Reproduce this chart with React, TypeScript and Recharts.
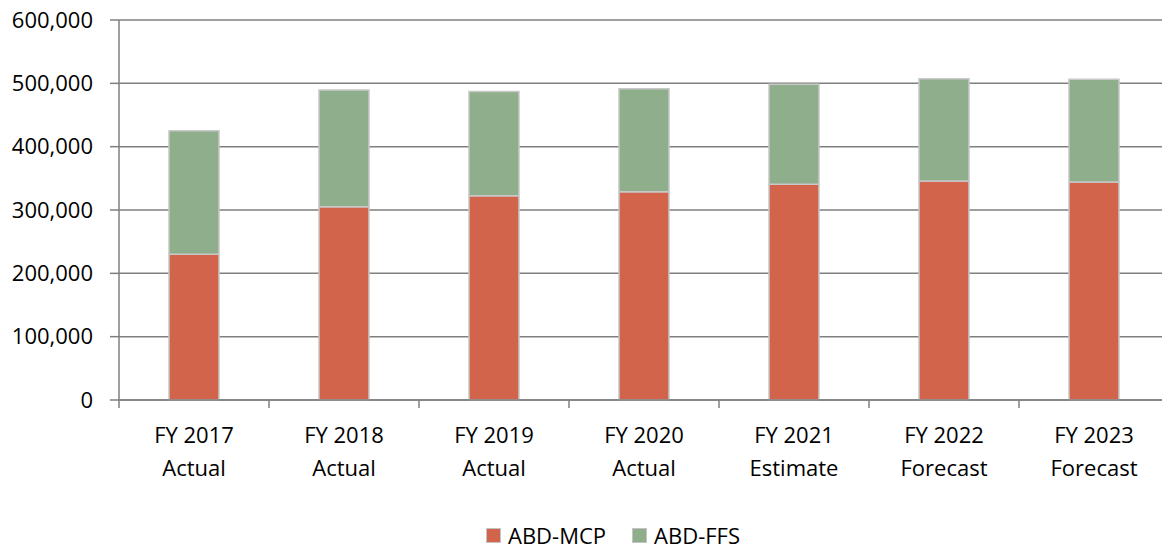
import { BarChart, Bar, XAxis, YAxis, CartesianGrid, Legend } from "recharts";

const years = ["FY 2017", "FY 2018", "FY 2019", "FY 2020", "FY 2021", "FY 2022", "FY 2023"];
const stages = ["Actual", "Actual", "Actual", "Actual", "Estimate", "Forecast", "Forecast"];
const mcp = [230000, 305000, 322600, 329000, 340500, 345800, 344200];
const ffs = [195000, 184500, 164400, 162600, 157900, 161600, 162200];
const yTicks = [0, 100000, 200000, 300000, 400000, 500000, 600000];

const MCP_COLOR = "#D1644A";
const FFS_COLOR = "#8FAE8B";
const AXIS_COLOR = "#7f7f7f";
const TEXT_COLOR = "#000000";
const FONT = "'Open Sans', sans-serif";

const data = years.map((year, i) => ({
  name: `${year}\n${stages[i]}`,
  mcp: mcp[i],
  ffs: ffs[i],
}));

function CategoryTick(props: any) {
  const { x, y, payload, width, visibleTicksCount } = props;
  const band = width / visibleTicksCount;
  const [top, bottom] = String(payload.value).split("\n");
  return (
    <g>
      <line x1={x - band / 2} x2={x - band / 2} y1={y} y2={y + 8} stroke={AXIS_COLOR} strokeWidth={1.5} />
      <text x={x} y={y + 43} textAnchor="middle" fill={TEXT_COLOR} fontSize={22} fontFamily={FONT}>
        {top}
      </text>
      <text x={x} y={y + 76} textAnchor="middle" fill={TEXT_COLOR} fontSize={22} fontFamily={FONT}>
        {bottom}
      </text>
    </g>
  );
}

function LegendContent() {
  const items = [
    { label: "ABD-MCP", color: MCP_COLOR },
    { label: "ABD-FFS", color: FFS_COLOR },
  ];
  return (
    <div
      style={{
        display: "flex",
        boxSizing: "border-box",
        marginLeft: 486,
        height: 44,
        paddingTop: 14,
        alignItems: "center",
        lineHeight: "22px",
      }}
    >
      {items.map((it) => (
        <div key={it.label} style={{ display: "flex", alignItems: "center", marginRight: 26 }}>
          <span
            style={{
              width: 13,
              height: 13,
              background: it.color,
              border: "1px solid #c4c4c4",
              marginRight: 7,
              display: "inline-block",
            }}
          />
          <span style={{ fontFamily: FONT, fontSize: 22, color: TEXT_COLOR }}>{it.label}</span>
        </div>
      ))}
    </div>
  );
}

export default function App() {
  return (
    <div style={{ position: "absolute", left: 0, top: 0, width: 1162, height: 550, overflow: "hidden", background: "#fff" }}>
      <BarChart width={1175} height={550} data={data} margin={{ top: 20, right: 6, left: 0, bottom: 0 }}>
        <CartesianGrid vertical={false} stroke={AXIS_COLOR} strokeWidth={1.5} />
        <XAxis
          dataKey="name"
          interval={0}
          tickLine={false}
          tickSize={0}
          tickMargin={0}
          height={106}
          axisLine={{ stroke: AXIS_COLOR, strokeWidth: 1.5 }}
          tick={<CategoryTick />}
        />
        <YAxis
          width={119}
          domain={[0, 600000]}
          ticks={yTicks}
          interval={0}
          tickSize={9}
          tickMargin={17}
          axisLine={{ stroke: AXIS_COLOR, strokeWidth: 1.5 }}
          tickLine={{ stroke: AXIS_COLOR, strokeWidth: 1.5 }}
          tick={{ fill: TEXT_COLOR, fontSize: 22, fontFamily: FONT }}
          tickFormatter={(v: number) => v.toLocaleString("en-US")}
        />
        <Legend verticalAlign="bottom" height={44} content={<LegendContent />} />
        <Bar dataKey="mcp" name="ABD-MCP" stackId="a" fill={MCP_COLOR} stroke="#c8c8c8" strokeWidth={1.5} barSize={50} isAnimationActive={false} />
        <Bar dataKey="ffs" name="ABD-FFS" stackId="a" fill={FFS_COLOR} stroke="#c8c8c8" strokeWidth={1.5} barSize={50} isAnimationActive={false} />
      </BarChart>
    </div>
  );
}
